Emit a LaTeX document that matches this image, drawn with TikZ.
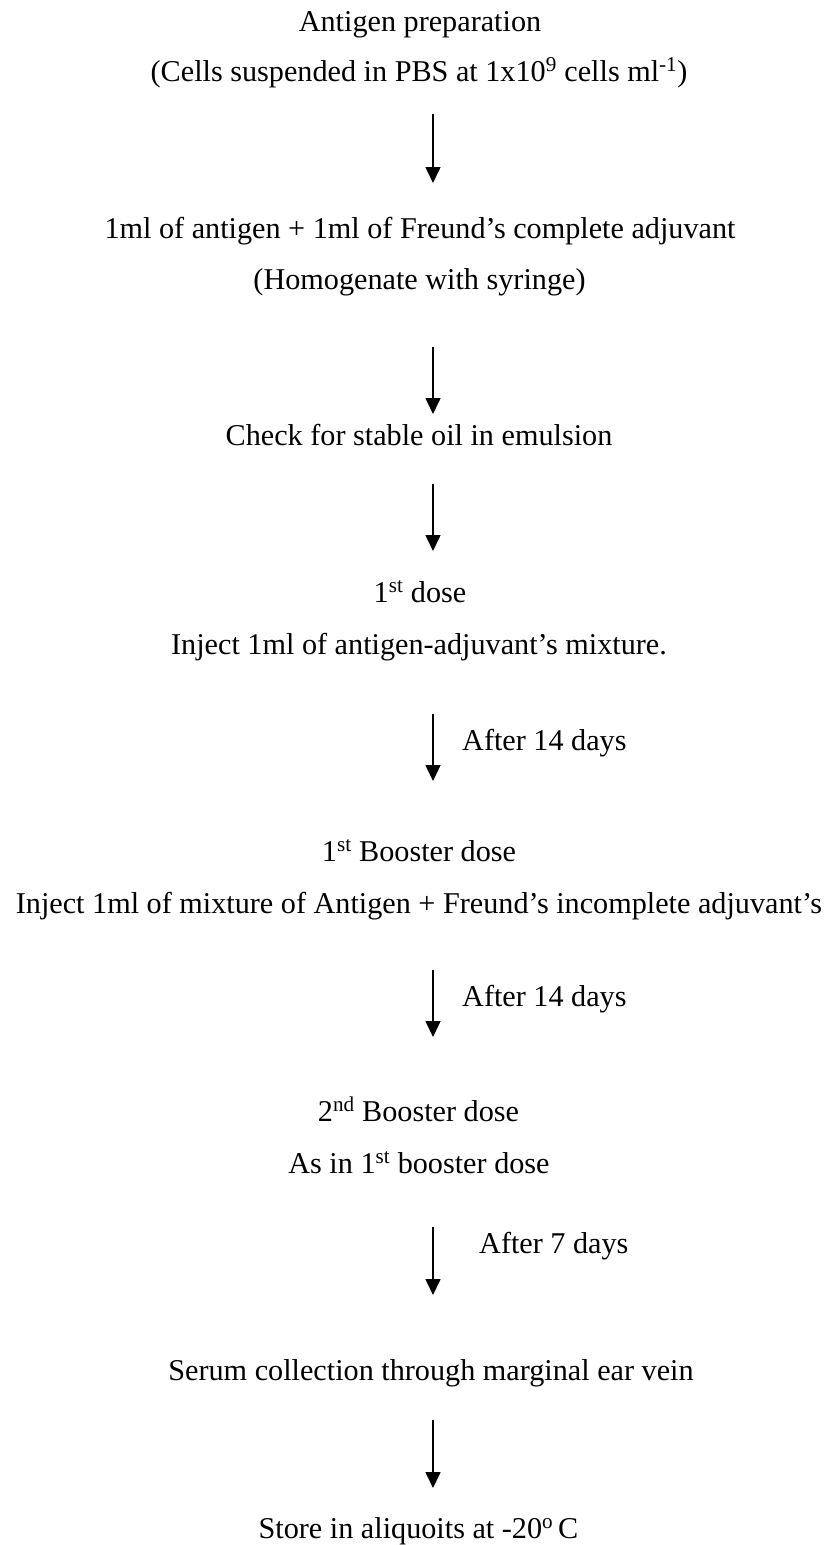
\documentclass[tikz,border=0pt]{standalone}
\usepackage{fontspec}
\setmainfont{Liberation Serif}
\usetikzlibrary{arrows.meta}
\begin{document}
\begin{tikzpicture}[x=1pt,y=-1pt,
  txt/.style={inner sep=0pt, font=\fontsize{30.2}{36}\selectfont, anchor=base},
  lbl/.style={txt, anchor=base west},
  flow/.style={line width=1.6pt, -{Triangle[width=15pt,length=16pt]}}]
\useasboundingbox (0,0) rectangle (828,1545);
\node[txt] (t1) at (420,31) {Antigen preparation};
\node[txt] (t2) at (419,81) {(Cells suspended in PBS at 1x10\textsuperscript{9} cells ml\textsuperscript{-1})};
\coordinate (a1s) at (433,114); \coordinate (a1e) at (433,183);
\draw[flow] (a1s) -- (a1e);
\node[txt] (t3) at (420,238) {1ml of antigen + 1ml of Freund’s complete adjuvant};
\node[txt] (t4) at (419.5,289) {(Homogenate with syringe)};
\coordinate (a2s) at (433,347); \coordinate (a2e) at (433,414);
\draw[flow] (a2s) -- (a2e);
\node[txt] (t5) at (419,445) {Check for stable oil in emulsion};
\coordinate (a3s) at (433,484); \coordinate (a3e) at (433,551);
\draw[flow] (a3s) -- (a3e);
\node[txt] (t6) at (420,602) {1\textsuperscript{st} dose};
\node[txt] (t7) at (419,654) {Inject 1ml of antigen-adjuvant’s mixture.};
\coordinate (a4s) at (433,714); \coordinate (a4e) at (433,781);
\draw[flow] (a4s) -- (a4e);
\node[lbl] (l1) at (462,750) {After 14 days};
\node[txt] (t8) at (419,861) {1\textsuperscript{st} Booster dose};
\node[txt] (t9) at (419,913) {Inject 1ml of mixture of Antigen + Freund’s incomplete adjuvant’s};
\coordinate (a5s) at (433,970); \coordinate (a5e) at (433,1037);
\draw[flow] (a5s) -- (a5e);
\node[lbl] (l2) at (462,1006) {After 14 days};
\node[txt] (t10) at (418.5,1121) {2\textsuperscript{nd} Booster dose};
\node[txt] (t11) at (419,1173) {As in 1\textsuperscript{st} booster dose};
\coordinate (a6s) at (433,1227); \coordinate (a6e) at (433,1295);
\draw[flow] (a6s) -- (a6e);
\node[lbl] (l3) at (479,1253) {After 7 days};
\node[txt] (t12) at (431,1380) {Serum collection through marginal ear vein};
\coordinate (a7s) at (433,1420); \coordinate (a7e) at (433,1488);
\draw[flow] (a7s) -- (a7e);
\node[txt] (t13) at (418.5,1538) {Store in aliquoits at -20\textsuperscript{o}\,C};
\end{tikzpicture}
\end{document}
